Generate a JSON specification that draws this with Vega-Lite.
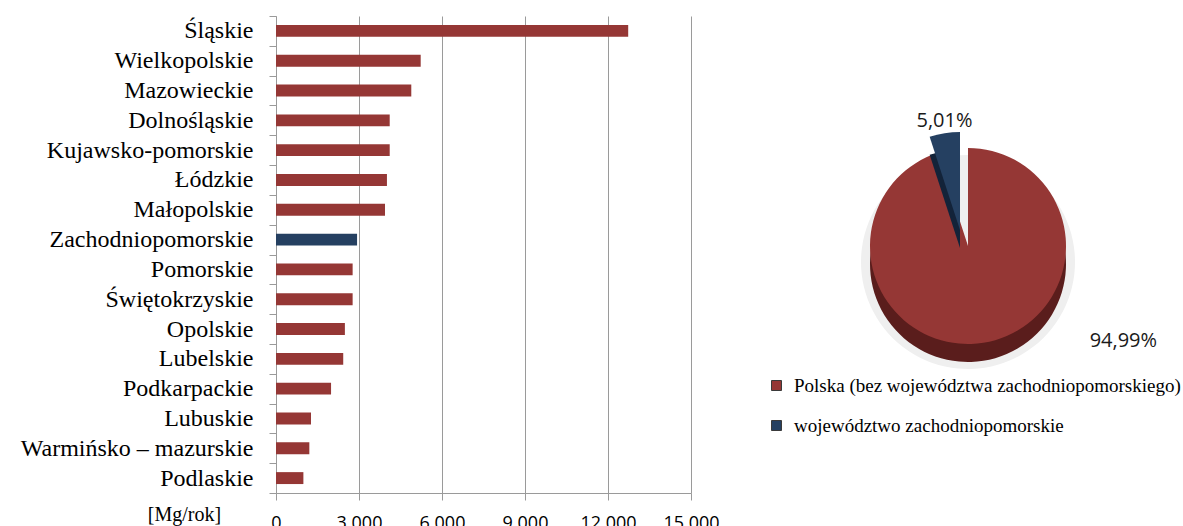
{
  "$schema": "https://vega.github.io/schema/vega-lite/v6.json",
  "padding": {"left": 20, "top": 4, "right": 0, "bottom": 0},
  "spacing": 20,
  "config": {
    "view": {"stroke": null},
    "locale": {"number": {"decimal": ",", "thousands": "\u00a0", "grouping": [3], "currency": ["", " zł"]}}
  },
  "hconcat": [
    {
      "width": 415,
      "height": 477,
      "data": {
        "values": [
          {"wojewodztwo": "Śląskie", "emisja": 12730},
          {"wojewodztwo": "Wielkopolskie", "emisja": 5230},
          {"wojewodztwo": "Mazowieckie", "emisja": 4890},
          {"wojewodztwo": "Dolnośląskie", "emisja": 4110},
          {"wojewodztwo": "Kujawsko-pomorskie", "emisja": 4110},
          {"wojewodztwo": "Łódzkie", "emisja": 4010},
          {"wojewodztwo": "Małopolskie", "emisja": 3940},
          {"wojewodztwo": "Zachodniopomorskie", "emisja": 2930},
          {"wojewodztwo": "Pomorskie", "emisja": 2770},
          {"wojewodztwo": "Świętokrzyskie", "emisja": 2770},
          {"wojewodztwo": "Opolskie", "emisja": 2490},
          {"wojewodztwo": "Lubelskie", "emisja": 2430},
          {"wojewodztwo": "Podkarpackie", "emisja": 1990},
          {"wojewodztwo": "Lubuskie", "emisja": 1265},
          {"wojewodztwo": "Warmińsko – mazurskie", "emisja": 1205},
          {"wojewodztwo": "Podlaskie", "emisja": 990}
        ]
      },
      "mark": {"type": "bar", "height": {"band": 0.4}},
      "encoding": {
        "y": {
          "field": "wojewodztwo",
          "type": "nominal",
          "sort": null,
          "scale": {"paddingInner": 0, "paddingOuter": 0},
          "axis": {
            "title": null,
            "labelFont": "Liberation Serif",
            "labelFontSize": 24,
            "labelColor": "#000000",
            "domainColor": "#9a9a9a",
            "tickColor": "#9a9a9a",
            "tickSize": 7,
            "tickBand": "extent",
            "labelPadding": 16,
            "labelLimit": 0,
            "grid": false
          }
        },
        "x": {
          "field": "emisja",
          "type": "quantitative",
          "scale": {"domain": [0, 15000], "nice": false},
          "axis": {
            "values": [0, 3000, 6000, 9000, 12000, 15000],
            "format": ",.0f",
            "grid": true,
            "gridColor": "#9a9a9a",
            "gridWidth": 1,
            "domainColor": "#9a9a9a",
            "tickColor": "#9a9a9a",
            "tickSize": 7,
            "labelFont": "Open Sans",
            "labelFontSize": 18,
            "labelColor": "#000000",
            "labelPadding": 14,
            "labelFlush": false,
            "title": "[Mg/rok]",
            "titleFont": "Liberation Serif",
            "titleFontSize": 20,
            "titleFontWeight": "normal",
            "titleColor": "#000000",
            "titleX": -92,
            "titleY": 21,
            "titleBaseline": "middle",
            "titleAlign": "center"
          }
        },
        "color": {
          "condition": {"test": "datum.wojewodztwo === 'Zachodniopomorskie'", "value": "#254061"},
          "value": "#953735"
        }
      }
    },
    {
      "width": 456,
      "height": 460,
      "data": {
        "values": [
          {"kategoria": "Polska (bez województwa zachodniopomorskiego)", "udzial": 0.9499},
          {"kategoria": "województwo zachodniopomorskie", "udzial": 0.0501}
        ]
      },
      "encoding": {
        "theta": {"field": "udzial", "type": "quantitative", "stack": true},
        "order": {"field": "udzial", "sort": "descending"}
      },
      "layer": [
        {
          "mark": {"type": "arc", "radius": 107, "yOffset": 16, "fill": "#efefef"}
        },
        {
          "mark": {"type": "arc", "radius": 98, "yOffset": 18, "fill": "#5a1d1c"},
          "encoding": {"opacity": {"condition": {"test": "datum.udzial > 0.5", "value": 1}, "value": 0}}
        },
        {
          "mark": {"type": "arc", "radius": 98},
          "encoding": {
            "color": {
              "field": "kategoria",
              "type": "nominal",
              "scale": {
                "domain": ["Polska (bez województwa zachodniopomorskiego)", "województwo zachodniopomorskie"],
                "range": ["#953735", "#254061"]
              },
              "legend": {
                "orient": "none",
                "legendX": 491,
                "legendY": 360,
                "title": null,
                "symbolType": "square",
                "symbolSize": 100,
                "symbolStrokeWidth": 1,
                "symbolStrokeColor": "#3a3a3a",
                "symbolOpacity": 1,
                "labelFont": "Liberation Serif",
                "labelFontSize": 19,
                "labelColor": "#000000",
                "labelLimit": 0,
                "labelOffset": 8,
                "rowPadding": 20,
                "padding": 0
              }
            },
            "opacity": {"condition": {"test": "datum.udzial > 0.5", "value": 1}, "value": 0}
          }
        },
        {
          "mark": {"type": "arc", "radius": 98, "xOffset": -8, "yOffset": 2, "fill": "#132339"},
          "encoding": {"opacity": {"condition": {"test": "datum.udzial < 0.5", "value": 1}, "value": 0}}
        },
        {
          "mark": {"type": "arc", "radius": 98, "xOffset": -8, "yOffset": -16, "fill": "#254061"},
          "encoding": {"opacity": {"condition": {"test": "datum.udzial < 0.5", "value": 1}, "value": 0}}
        },
        {
          "mark": {"type": "text", "radius": 112, "xOffset": -6, "yOffset": -14, "font": "Open Sans", "fontSize": 20, "fill": "#1a1a1a"},
          "encoding": {
            "text": {"field": "udzial", "type": "quantitative", "format": ".2%"},
            "opacity": {"condition": {"test": "datum.udzial < 0.5", "value": 1}, "value": 0}
          }
        },
        {
          "mark": {"type": "text", "radius": 98, "dx": 140, "dy": -2, "font": "Open Sans", "fontSize": 20, "fill": "#1a1a1a"},
          "encoding": {
            "text": {"field": "udzial", "type": "quantitative", "format": ".2%"},
            "opacity": {"condition": {"test": "datum.udzial > 0.5", "value": 1}, "value": 0}
          }
        }
      ]
    }
  ]
}
